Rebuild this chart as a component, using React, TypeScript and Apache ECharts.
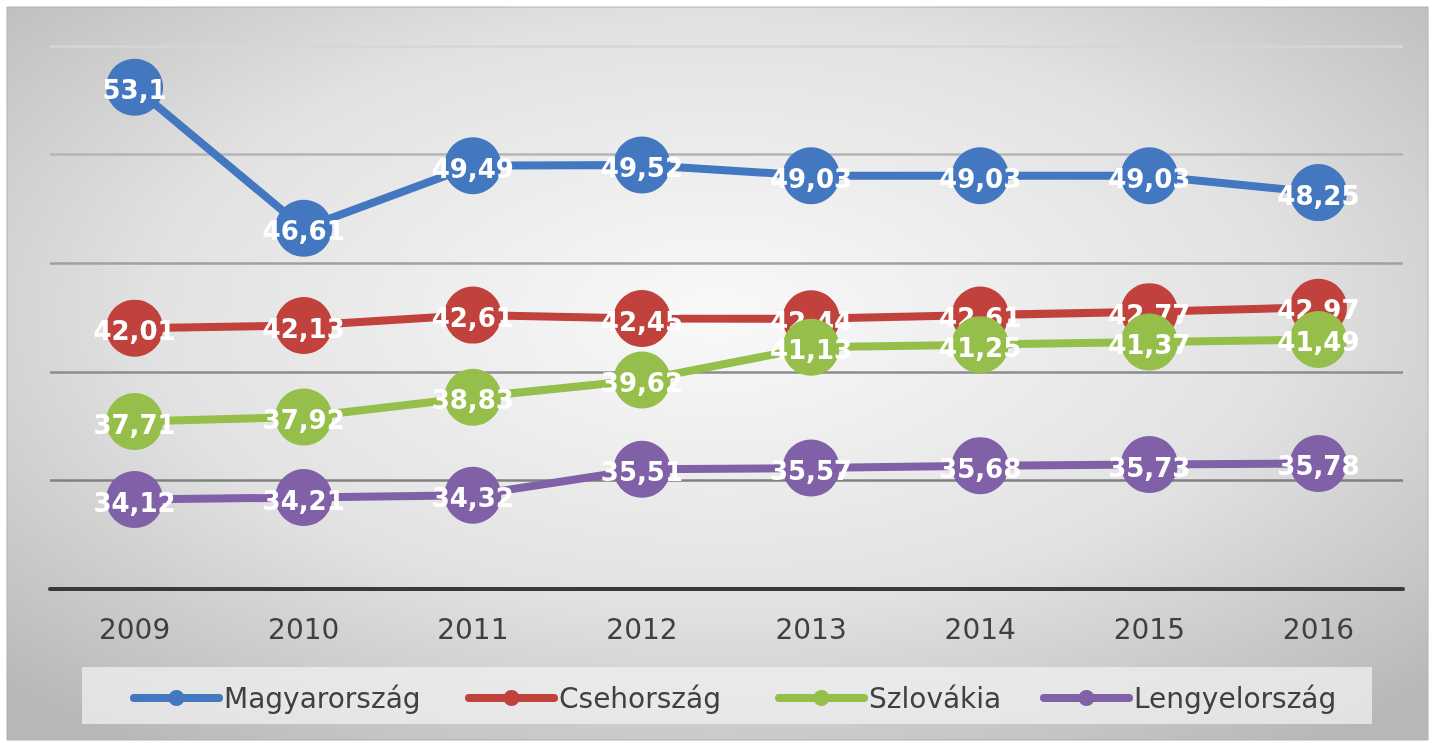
import React, { useEffect, useRef } from "react";
import * as echarts from "echarts";

const years = ["2009", "2010", "2011", "2012", "2013", "2014", "2015", "2016"];
const seriesNames = ["Magyarország", "Csehország", "Szlovákia", "Lengyelország"];
const magyarorszag = [53.1, 46.61, 49.49, 49.52, 49.03, 49.03, 49.03, 48.25];
const csehorszag = [42.01, 42.13, 42.61, 42.45, 42.44, 42.61, 42.77, 42.97];
const szlovakia = [37.71, 37.92, 38.83, 39.62, 41.13, 41.25, 41.37, 41.49];
const lengyelorszag = [34.12, 34.21, 34.32, 35.51, 35.57, 35.68, 35.73, 35.78];
const colors = ["#4377bf", "#c1413c", "#95bf4a", "#8061a8"];
const yMin = 30;
const yMax = 55;
const yStep = 5;

export default function App() {
  const ref = useRef<HTMLDivElement>(null);
  useEffect(() => {
    if (!ref.current) return;
    const chart = echarts.init(ref.current, undefined, { renderer: "svg" });
    const values = [magyarorszag, csehorszag, szlovakia, lengyelorszag];
    const legendLefts = [130, 465, 775, 1040];
    chart.setOption({
      animation: false,
      graphic: [
        {
          type: "rect",
          z: -10,
          silent: true,
          shape: { x: 7, y: 7, width: 1421, height: 733 },
          style: {
            fill: {
              type: "radial",
              x: 0.5,
              y: 0.42,
              r: 0.72,
              colorStops: [
                { offset: 0, color: "#f9f9f9" },
                { offset: 0.55, color: "#e2e2e2" },
                { offset: 1, color: "#b7b7b7" },
              ],
            },
            stroke: "#b0b0b0",
            lineWidth: 1,
          },
        },
        {
          type: "rect",
          z: -9,
          silent: true,
          shape: { x: 82, y: 667, width: 1290, height: 57 },
          style: { fill: "rgba(240,240,240,0.75)" },
        },
      ],
      grid: { left: 50, right: 32, top: 46, bottom: 154 },
      legend: seriesNames.map((n, i) => ({
        data: [n],
        left: legendLefts[i],
        top: 684,
        padding: 0,
        itemWidth: 85,
        itemHeight: 20,
        itemGap: 0,
        selectedMode: false,
        lineStyle: { width: 8, color: colors[i], cap: "round" },
        itemStyle: { color: colors[i] },
        textStyle: { fontFamily: "DejaVu Sans", fontSize: 28, color: "#404040" },
      })),
      xAxis: {
        type: "category",
        data: years,
        boundaryGap: true,
        axisLine: { lineStyle: { color: "#3a3a3a", width: 4 } },
        axisTick: { show: false },
        axisLabel: {
          margin: 26,
          fontFamily: "DejaVu Sans",
          fontSize: 28,
          color: "#404040",
        },
      },
      yAxis: {
        type: "value",
        min: yMin,
        max: yMax,
        interval: yStep,
        axisLabel: { show: false },
        axisLine: { show: false },
        axisTick: { show: false },
        splitLine: {
          lineStyle: {
            width: 2.5,
            color: ["#7a7a7a", "#808080", "#8c8c8c", "#a0a0a0", "#b4b4b4", "#d6d6d6"],
          },
        },
      },
      series: seriesNames.map((n, i) => ({
        name: n,
        type: "line",
        data: values[i],
        symbol: "circle",
        symbolSize: 57,
        color: colors[i],
        lineStyle: { width: 8, color: colors[i] },
        itemStyle: { color: colors[i] },
        label: {
          show: true,
          position: "inside",
          offset: [0, 3],
          color: "#ffffff",
          fontFamily: "DejaVu Sans",
          fontWeight: "bold",
          fontSize: 26,
          formatter: (p: any) => String(p.value).replace(".", ","),
        },
        z: 2 + i,
      })),
    });
    return () => chart.dispose();
  }, []);
  return (
    <div
      ref={ref}
      style={{ position: "fixed", left: 0, top: 0, width: 1435, height: 743 }}
    />
  );
}
